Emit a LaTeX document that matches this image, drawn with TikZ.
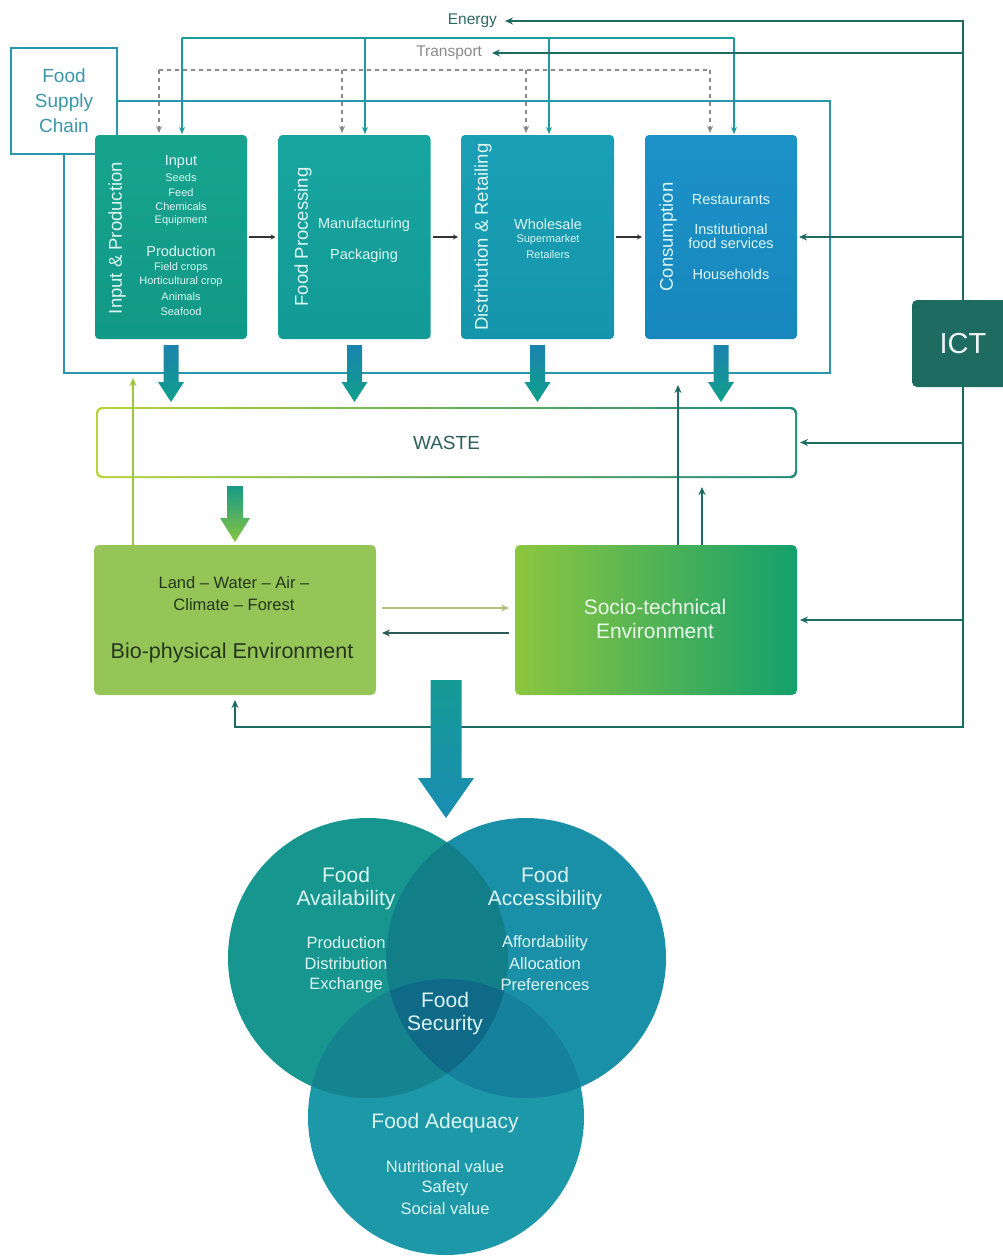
\documentclass[tikz,border=0pt]{standalone}
\usepackage{fontspec}
\setmainfont{Liberation Sans}
\usetikzlibrary{arrows.meta,calc}
\definecolor{fscblue}{HTML}{2996B0}
\definecolor{fsctxt}{HTML}{3A97A8}
\definecolor{enc}{HTML}{1C9B9D}
\definecolor{trc}{HTML}{8A8A8A}
\definecolor{ictc}{HTML}{1E6B62}
\definecolor{entxt}{HTML}{2E6A60}
\definecolor{boxtxt}{HTML}{DDF6F2}
\definecolor{inpT}{HTML}{17A48F}
\definecolor{inpB}{HTML}{119886}
\definecolor{procT}{HTML}{18A5A0}
\definecolor{procB}{HTML}{129A96}
\definecolor{distT}{HTML}{1AA0B6}
\definecolor{distB}{HTML}{1595AB}
\definecolor{consT}{HTML}{1C92C8}
\definecolor{consB}{HTML}{1787BD}
\definecolor{wasteL}{HTML}{B8D43A}
\definecolor{wasteR}{HTML}{1E8A7C}
\definecolor{wastetxt}{HTML}{2D5E5A}
\definecolor{bioc}{HTML}{95C556}
\definecolor{biotxt}{HTML}{25361F}
\definecolor{socL}{HTML}{8DC63F}
\definecolor{socR}{HTML}{14A06C}
\definecolor{soctxt}{HTML}{E9F7E8}
\definecolor{greenarr}{HTML}{9DC53E}
\definecolor{olivearr}{HTML}{B3C27A}
\definecolor{darkarr}{HTML}{2A5B5A}
\definecolor{fatT}{HTML}{1A83AE}
\definecolor{fatB}{HTML}{10A08A}
\definecolor{wbT}{HTML}{1A9A86}
\definecolor{wbB}{HTML}{86C440}
\definecolor{bigT}{HTML}{169A95}
\definecolor{bigB}{HTML}{1A8DB3}
\definecolor{avC}{HTML}{16968E}
\definecolor{acC}{HTML}{1990A8}
\definecolor{adC}{HTML}{1D98A8}
\definecolor{ovAA}{HTML}{127F88}
\definecolor{ovAvAd}{HTML}{15848E}
\definecolor{ovAcAd}{HTML}{16819C}
\definecolor{ovAll}{HTML}{0F6A88}
\definecolor{circtxt}{HTML}{DCF4F1}
\newcommand\fatarrow[7]{%
  \shade[top color=#6,bottom color=#7] let \p1=#1, \p2=#2 in
   (\x1-#3,\y1) -- (\x1-#3,\y2+#5) -- (\x1-#4,\y2+#5) -- (\x1,\y2) --
   (\x1+#4,\y2+#5) -- (\x1+#3,\y2+#5) -- (\x1+#3,\y1) -- cycle;}
\begin{document}
\begin{tikzpicture}[x=1pt,y=-1pt,
  every node/.style={inner sep=0pt,outer sep=0pt},
  stage/.style={rectangle,rounded corners=4pt,minimum width=152pt,minimum height=204pt},
  vtitle/.style={rotate=90,text=boxtxt,font=\fontsize{18.5}{22}\selectfont},
  itemL/.style={text=boxtxt,font=\fontsize{14.5}{17}\selectfont},
  itemS/.style={text=boxtxt,font=\fontsize{11}{13}\selectfont},
  enline/.style={draw=enc,line width=2pt},
  enarr/.style={enline,-{Stealth[length=7pt,width=6pt]}},
  trline/.style={draw=trc,line width=2pt,dash pattern=on 4pt off 4pt},
  trarr/.style={trline,-{Stealth[length=7pt,width=6pt]}},
  ictline/.style={draw=ictc,line width=2pt},
  ictarr/.style={ictline,-{Stealth[length=8pt,width=7pt]}},
  frame/.style={draw=fscblue,line width=2.5pt},
  smallarr/.style={draw=black!80,line width=1.3pt,-{Stealth[length=5pt,width=5pt]}},
  circhead/.style={text=circtxt,align=center,font=\fontsize{21}{25}\selectfont},
  circsub/.style={text=circtxt,font=\fontsize{16.5}{20}\selectfont},
]
\useasboundingbox (0,0) rectangle (1003,1256);

% ---------- top: energy / transport labels
\node[anchor=east,text=entxt,font=\fontsize{15.5}{18}\selectfont] (energy) at (497,21) {Energy};
\node[anchor=east,text=trc,font=\fontsize{15.5}{18}\selectfont] (transport) at (482,53) {Transport};

% ---------- food supply chain label and frame
\node[draw=fscblue,line width=2.5pt,fill=white,minimum width=106pt,minimum height=106pt,
      text=fsctxt,align=center,font=\fontsize{19}{25}\selectfont] (fsc) at (64,101) {Food\\Supply\\Chain};
\coordinate (frameBR) at (830,373);
\draw[frame] (fsc.east) -| (frameBR) -| (fsc.south);

% ---------- stage boxes
\node[stage,top color=inpT,bottom color=inpB] (inp) at (171,237) {};
\node[stage,top color=procT,bottom color=procB] (proc) at (354.5,237) {};
\node[stage,top color=distT,bottom color=distB,minimum width=153pt] (dist) at (537.5,237) {};
\node[stage,top color=consT,bottom color=consB] (cons) at (721,237) {};

\node[vtitle] (inpTitle) at (117,238) {Input \& Production};
\node[itemL] (ip1) at (181,162) {Input};
\node[itemS] (ip2) at (181,178) {Seeds};
\node[itemS] (ip3) at (181,193) {Feed};
\node[itemS] (ip4) at (181,207) {Chemicals};
\node[itemS] (ip5) at (181,221) {Equipment};
\node[itemL] (ip6) at (181,251) {Production};
\node[itemS] (ip7) at (181,268) {Field crops};
\node[itemS] (ip8) at (181,282) {Horticultural crop};
\node[itemS] (ip9) at (181,297) {Animals};
\node[itemS] (ip10) at (181,312) {Seafood};

\node[vtitle] (procTitle) at (303,237) {Food Processing};
\node[itemL] (pp1) at (364,225) {Manufacturing};
\node[itemL] (pp2) at (364,256) {Packaging};

\node[vtitle] (distTitle) at (483,237) {Distribution \& Retailing};
\node[itemL] (dp1) at (548,224) {Wholesale};
\node[itemS] (dp2) at (548,240) {Supermarket};
\node[itemS] (dp3) at (548,255) {Retailers};

\node[vtitle] (consTitle) at (668,237) {Consumption};
\node[itemL] (cp1) at (731,200) {Restaurants};
\node[itemL] (cp2) at (731,229) {Institutional};
\node[itemL] (cp3) at (731,243) {food services};
\node[itemL] (cp4) at (731,274) {Households};

\draw[smallarr,shorten <=2pt,shorten >=3pt] (inp.east) -- (proc.west);
\draw[smallarr,shorten <=2pt,shorten >=3pt] (proc.east) -- (dist.west);
\draw[smallarr,shorten <=2pt,shorten >=3pt] (dist.east) -- (cons.west);

% ---------- energy bus
\coordinate (en1) at (182,38);
\coordinate (en2) at (365,38);
\coordinate (en3) at (549,38);
\coordinate (en4) at (734,38);
\draw[enline] (en1) -- (en4);
\foreach \c/\b in {en1/inp,en2/proc,en3/dist,en4/cons}
  \draw[enarr,shorten >=1pt] (\c) -- (\c |- \b.north);

% ---------- transport bus
\coordinate (tr1) at (159,70);
\coordinate (tr2) at (342,70);
\coordinate (tr3) at (526,70);
\coordinate (tr4) at (710,70);
\draw[trline] (tr1) -- (tr4);
\foreach \c/\b in {tr1/inp,tr2/proc,tr3/dist,tr4/cons}
  \draw[trarr,shorten >=2pt] (\c) -- (\c |- \b.north);

% ---------- waste
\node[rounded corners=6pt,minimum width=701pt,minimum height=71pt,left color=wasteL,right color=wasteR] (waste) at (446.5,442.5) {};
\node[rounded corners=5pt,fill=white,minimum width=697pt,minimum height=67pt,text=wastetxt,
      font=\fontsize{19}{22}\selectfont] (wlabel) at (waste.center) {WASTE};

% fat arrows stages -> waste
\foreach \b in {inp,proc,dist,cons}{
  \coordinate (\b S) at ($(\b.south)+(0,6)$);
  \coordinate (\b T) at ($(\b.south |- waste.north)+(0,-5)$);
  \fatarrow{(\b S)}{(\b T)}{7.5pt}{13pt}{20pt}{fatT}{fatB}
}

% ---------- environments
\node[fill=bioc,rounded corners=5pt,minimum width=282pt,minimum height=150pt] (bio) at (235,620) {};
\node[left color=socL,right color=socR,rounded corners=5pt,minimum width=282pt,minimum height=150pt] (socio) at (656,620) {};

\node[text=biotxt,font=\fontsize{16.5}{20}\selectfont] (bl1) at (234,583) {Land – Water – Air –};
\node[text=biotxt,font=\fontsize{16.5}{20}\selectfont] (bl2) at (234,605) {Climate – Forest};
\node[text=biotxt,font=\fontsize{21.5}{25}\selectfont] (bl3) at (232,653) {Bio-physical Environment};
\node[text=soctxt,font=\fontsize{21}{25}\selectfont] (sl1) at (655,607) {Socio-technical};
\node[text=soctxt,font=\fontsize{21}{25}\selectfont] (sl2) at (655,631) {Environment};

% waste -> bio fat arrow
\coordinate (wbS) at ($(bio.north |- waste.south)+(0,8)$);
\coordinate (wbT) at ($(bio.north)+(0,-3)$);
\fatarrow{(wbS)}{(wbT)}{8pt}{15pt}{24pt}{wbT}{wbB}

% bio <-> socio
\draw[draw=olivearr,line width=2.5pt,-{Stealth[length=8pt,width=7pt]},shorten <=6pt,shorten >=6pt]
  ([yshift=12pt]bio.east) -- ([yshift=12pt]socio.west);
\draw[draw=darkarr,line width=2.5pt,-{Stealth[length=8pt,width=7pt]},shorten <=6pt,shorten >=6pt]
  ([yshift=-13pt]socio.west) -- ([yshift=-13pt]bio.east);

% bio -> frame, socio -> frame / waste
\coordinate (gTip) at (133,378);
\draw[draw=greenarr,line width=2pt,-{Stealth[length=8pt,width=7pt]}] (gTip |- bio.north) -- (gTip);
\coordinate (d1Tip) at (678,385);
\draw[draw=ictc,line width=2pt,-{Stealth[length=8pt,width=7pt]}] (d1Tip |- socio.north) -- (d1Tip);
\coordinate (d2Tip) at (702,487);
\draw[draw=ictc,line width=2pt,-{Stealth[length=8pt,width=7pt]}] (d2Tip |- socio.north) -- (d2Tip);

% ---------- ICT
\node[fill=ictc,rounded corners=5pt,minimum width=102pt,minimum height=87pt,text=white!92!ictc,
      font=\fontsize{29}{32}\selectfont] (ict) at (963,343.5) {ICT};
\draw[ictarr,shorten >=8pt] (ict.north) |- (energy.east);
\draw[ictarr,shorten >=10pt] (ict.north |- transport.east) -- (transport.east);
\draw[ictarr,shorten >=2pt] (ict.north |- cons.east) -- (cons.east);
\draw[ictarr,shorten >=3pt] (ict.south |- waste.east) -- (waste.east);
\draw[ictarr,shorten >=3pt] (ict.south |- socio.east) -- (socio.east);
\draw[ictarr,shorten >=5pt] (ict.south) |- ($(bio.south)+(0,32)$) -- (bio.south);

% ---------- food security circles
\node[circle,fill=avC,minimum size=280pt] (avail) at (368,958) {};
\node[circle,fill=acC,minimum size=280pt] (access) at (526,958) {};
\node[circle,fill=adC,minimum size=276pt] (adeq) at (446,1117) {};
\begin{scope}\clip (avail.center) circle (140pt); \fill[ovAA] (access.center) circle (140pt);\end{scope}
\begin{scope}\clip (avail.center) circle (140pt); \fill[ovAvAd] (adeq.center) circle (138pt);\end{scope}
\begin{scope}\clip (access.center) circle (140pt); \fill[ovAcAd] (adeq.center) circle (138pt);\end{scope}
\begin{scope}\clip (avail.center) circle (140pt); \clip (access.center) circle (140pt);
  \fill[ovAll] (adeq.center) circle (138pt);\end{scope}

% big arrow environments -> food security
\coordinate (bigS) at (446,680);
\coordinate (bigE) at (446,818);
\fatarrow{(bigS)}{(bigE)}{15.5pt}{28pt}{40pt}{bigT}{bigB}

\node[circhead] (av1) at (346,875) {Food};
\node[circhead] (av2) at (346,900) {Availability};
\node[circsub] (av3) at (346,943) {Production};
\node[circsub] (av4) at (346,964) {Distribution};
\node[circsub] (av5) at (346,985) {Exchange};

\node[circhead] (ac1) at (545,875) {Food};
\node[circhead] (ac2) at (545,900) {Accessibility};
\node[circsub] (ac3) at (545,943) {Affordability};
\node[circsub] (ac4) at (545,964) {Allocation};
\node[circsub] (ac5) at (545,985) {Preferences};

\node[circhead] (fs1) at (445,1000) {Food};
\node[circhead] (fs2) at (445,1025) {Security};

\node[circhead] (ad1) at (445,1123) {Food Adequacy};
\node[circsub] (ad2) at (445,1167) {Nutritional value};
\node[circsub] (ad3) at (445,1188) {Safety};
\node[circsub] (ad4) at (445,1209) {Social value};
\end{tikzpicture}
\end{document}
